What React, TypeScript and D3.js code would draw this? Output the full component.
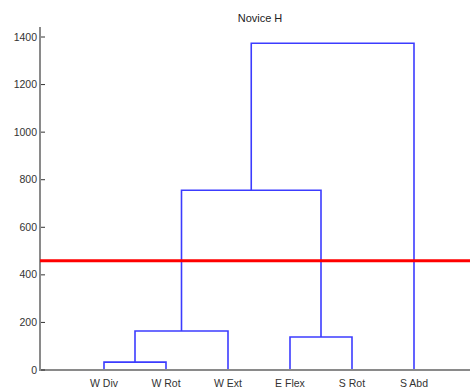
import React from "react";
import * as d3 from "d3";

const leaves = ["W Div", "W Rot", "W Ext", "E Flex", "S Rot", "S Abd"];
// merge steps: node ids 0..5 are leaves, 6.. are merges in order
const mergeLeft = [0, 6, 3, 7, 9];
const mergeRight = [1, 2, 4, 8, 5];
const mergeHeight = [33, 164, 139, 756, 1374];
const yTicks = [0, 200, 400, 600, 800, 1000, 1200, 1400];
const cutHeight = 459;
const title = "Novice H";

export default function App() {
  const W = 470, H = 389;
  const x = d3.scaleLinear().domain([0, 7]).range([42, 476]);
  const y = d3.scaleLinear().domain([0, 1400]).range([370, 37]);

  const nodeX: number[] = leaves.map((_, i) => x(i + 1));
  const nodeH: number[] = leaves.map(() => 0);
  const paths: string[] = [];
  mergeLeft.forEach((l, k) => {
    const r = mergeRight[k];
    const h = mergeHeight[k];
    const p = d3.path();
    p.moveTo(nodeX[l], y(nodeH[l]));
    p.lineTo(nodeX[l], y(h));
    p.lineTo(nodeX[r], y(h));
    p.lineTo(nodeX[r], y(nodeH[r]));
    paths.push(p.toString());
    nodeX.push((nodeX[l] + nodeX[r]) / 2);
    nodeH.push(h);
  });

  const font = "Liberation Sans, Arial, sans-serif";
  return (
    <svg width={W} height={H} style={{ position: "absolute", left: 0, top: 0, background: "#fff" }}>
      <text x={260} y={22} textAnchor="middle" fontFamily={font} fontSize={11} fill="#222">{title}</text>
      {paths.map((d, i) => (
        <path key={i} d={d} fill="none" stroke="#3c3cff" strokeWidth={1.6} />
      ))}
      {/* axes */}
      <line x1={40} y1={y(0)} x2={W} y2={y(0)} stroke="#8a8a8a" strokeWidth={2} />
      <line x1={40} y1={y(0) + 1} x2={40} y2={y(1400) - 10} stroke="#8a8a8a" strokeWidth={2} />
      {yTicks.map((t) => (
        <g key={t}>
          <line x1={41} x2={45} y1={y(t)} y2={y(t)} stroke="#333" strokeWidth={1} />
          <text x={37} y={y(t) + 3.5} textAnchor="end" fontFamily={font} fontSize={10.5} fill="#333">{t}</text>
        </g>
      ))}
      {leaves.map((name, i) => (
        <text key={name} x={x(i + 1)} y={387} textAnchor="middle" fontFamily={font} fontSize={10.5} fill="#333">{name}</text>
      ))}
      <line x1={40} x2={W} y1={y(cutHeight)} y2={y(cutHeight)} stroke="#ff0000" strokeWidth={3} />
    </svg>
  );
}
